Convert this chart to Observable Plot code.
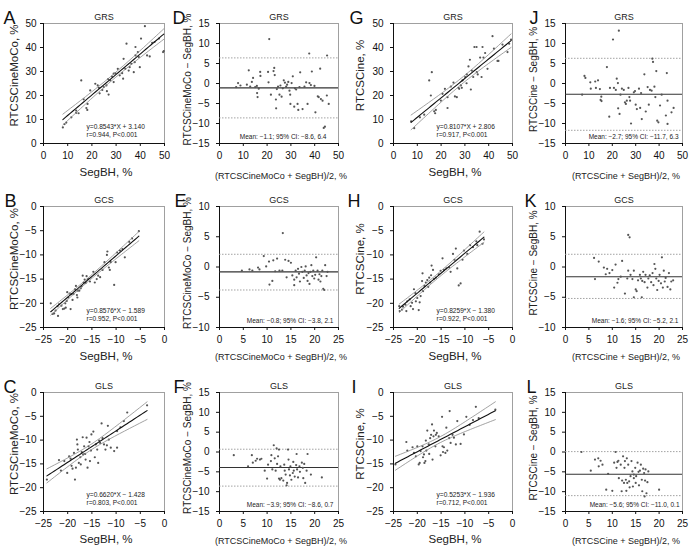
<!DOCTYPE html>
<html><head><meta charset="utf-8">
<script src="https://cdn.jsdelivr.net/npm/d3@7"></script>
<script src="https://cdn.jsdelivr.net/npm/@observablehq/plot@0.6"></script>
<style>
body{margin:0;background:#fff;}
#wrap{position:relative;width:691px;height:546px;overflow:hidden;background:#fff}
.panel{position:absolute}
</style></head><body><div id="wrap"></div><script>
// ---------- DATA ----------
// [SegBH, RTCSCineMoCo] GRS
const grsMoco = [[8.0,6.7],[8.7,8.1],[9.4,8.7],[11.5,10.9],[13.5,12.8],[14.5,12.6],[15.6,26.3],[16.6,18.4],[17.7,14.8],[18.1,14.0],[19.3,22.1],[21.4,24.9],[22.4,24.2],[23.2,20.9],[24.3,22.3],[26.0,24.2],[26.2,21.8],[26.9,20.4],[26.7,26.8],[27.6,26.3],[28.3,27.9],[29.0,29.1],[29.7,29.3],[30.7,31.1],[31.5,28.4],[32.5,29.3],[32.9,27.0],[33.1,35.3],[33.8,31.1],[34.3,41.6],[35.2,30.4],[35.6,31.8],[36.3,33.2],[37.3,29.7],[37.7,33.9],[38.0,36.7],[38.0,40.2],[39.0,38.1],[39.4,36.0],[39.8,31.8],[40.3,43.7],[41.9,48.9],[42.8,36.7],[43.9,36.3],[44.9,41.9],[45.9,42.3],[47.7,43.7],[49.4,38.1],[49.7,38.5],[24.9,23.5],[22.9,23.2],[29.0,25.6],[18.2,16.5],[13.5,13.7]];
// [mean, difference] GRS MoCo
const grsMocoBA = [[7.0,-0.9],[7.8,0.1],[8.8,-0.5],[11.5,-0.3],[12.3,3.3],[12.9,-0.8],[13.6,0.4],[14.1,1.4],[15.0,-0.9],[15.7,-0.6],[15.8,-2.4],[16.0,-3.4],[16.5,-1.3],[17.1,2.9],[17.2,1.9],[20.4,2.9],[20.6,0.3],[20.9,11.1],[21.6,-2.8],[22.7,3.1],[23.0,3.9],[23.2,2.1],[23.7,-4.0],[23.8,-6.2],[24.1,-1.4],[24.6,-0.8],[25.2,-2.8],[25.6,-0.5],[26.1,-3.3],[26.6,-1.2],[27.0,0.8],[27.5,0.2],[28.0,-0.8],[28.4,-0.3],[28.9,0.4],[29.4,-1.8],[29.7,-2.8],[29.8,-5.1],[30.3,0.1],[30.8,1.8],[31.4,-5.8],[31.7,-1.2],[32.2,-1.5],[32.8,-5.1],[33.1,-6.6],[33.6,-0.9],[33.9,2.8],[34.9,-6.4],[35.7,-0.8],[36.4,0.3],[37.0,-5.1],[37.7,7.5],[37.8,0.1],[38.4,-0.4],[38.8,3.0],[39.9,-0.6],[40.3,-7.2],[41.3,-3.2],[41.7,-3.4],[42.3,3.7],[42.6,-3.9],[43.3,-4.3],[43.8,-11.1],[44.3,-10.8],[45.1,-3.0],[45.2,7.0],[45.9,-5.1]];
// [SegBH, RTCSCine] GRS
const grsCine = [[7.4,9.2],[8.7,6.4],[11.1,10.9],[12.9,12.0],[15.0,26.3],[15.7,20.0],[16.1,29.7],[17.1,13.4],[17.5,12.6],[20.6,20.7],[21.6,22.8],[22.7,14.8],[24.1,23.7],[25.2,25.4],[25.8,19.6],[26.6,19.3],[27.3,23.2],[27.6,22.8],[28.3,24.2],[29.0,26.3],[30.1,27.7],[30.8,28.8],[31.5,32.1],[32.1,34.9],[32.5,22.5],[32.9,30.4],[33.5,27.7],[34.0,40.2],[34.9,40.2],[35.0,29.7],[35.4,28.8],[36.4,35.8],[37.0,27.7],[37.4,40.2],[37.8,35.8],[38.5,37.7],[39.5,31.1],[41.6,44.7],[42.2,39.5],[43.7,34.4],[44.1,34.4],[45.8,41.2],[47.9,38.1],[48.6,41.6],[49.4,43.3],[30.7,25.1],[28.7,23.2],[22.7,19.3],[19.9,17.9],[17.8,14.0]];
// [mean, difference] GRS Cine
const grsCineBA = [[7.1,-2.8],[8.1,1.9],[8.5,1.4],[10.6,0.3],[10.8,-1.3],[12.7,0.5],[13.0,-1.1],[13.9,0.8],[14.7,-1.4],[15.0,-4.1],[15.3,-3.3],[15.4,-4.4],[17.7,4.1],[18.7,-8.3],[19.0,-1.1],[20.3,11.0],[20.7,-1.1],[21.5,-1.6],[21.9,1.2],[22.4,0.1],[22.5,-6.2],[22.8,13.2],[23.1,-7.6],[23.5,-2.8],[24.1,-1.3],[24.9,-1.6],[25.4,-4.7],[25.8,-5.1],[26.2,-4.3],[26.9,-1.1],[27.3,-3.4],[27.6,-4.3],[28.0,-10.0],[29.2,-2.2],[29.7,-1.9],[30.0,-5.3],[30.5,-6.4],[31.4,-1.3],[31.9,-6.1],[32.3,-2.4],[32.6,-8.9],[33.7,2.3],[34.3,-7.0],[35.1,-0.9],[35.6,-5.3],[36.1,-1.6],[37.1,6.2],[37.4,5.4],[36.8,-1.8],[38.0,-0.8],[38.4,-3.4],[38.8,3.1],[39.2,-9.3],[39.7,-9.7],[40.4,-5.5],[41.1,-2.8],[42.9,-8.0],[43.3,2.6],[43.6,-4.3],[43.6,-10.1],[45.3,-7.2],[46.2,-6.1]];
// GCS
const gcsMoco = [[-23.5,-20.0],[-23.1,-22.2],[-22.8,-22.1],[-22.5,-21.5],[-22.1,-20.6],[-22.0,-22.6],[-21.8,-20.2],[-21.3,-20.5],[-21.0,-21.2],[-20.7,-21.1],[-20.5,-20.0],[-20.4,-20.9],[-20.2,-19.5],[-20.1,-17.7],[-19.9,-18.8],[-19.6,-18.0],[-19.4,-21.2],[-19.2,-18.1],[-19.0,-19.3],[-18.8,-18.1],[-18.5,-17.1],[-18.3,-16.4],[-18.1,-18.3],[-18.0,-18.8],[-17.9,-17.4],[-17.6,-17.4],[-17.3,-16.9],[-17.1,-16.5],[-16.9,-14.3],[-16.7,-15.7],[-16.5,-15.1],[-16.3,-15.8],[-16.1,-14.4],[-15.8,-15.0],[-15.4,-15.5],[-14.7,-13.5],[-14.4,-15.7],[-14.0,-15.0],[-13.7,-14.3],[-13.3,-14.6],[-12.8,-13.1],[-12.4,-11.5],[-11.9,-10.0],[-11.8,-9.3],[-11.5,-12.6],[-11.3,-13.1],[-11.1,-11.5],[-10.4,-16.2],[-10.1,-11.5],[-9.8,-9.5],[-9.2,-9.1],[-8.7,-8.8],[-8.2,-10.5],[-7.3,-7.3],[-6.7,-6.6],[-5.3,-5.1]];
const gcsMocoBA = [[4.7,-0.6],[6.3,-0.4],[6.9,-0.6],[8.1,-0.1],[8.4,-0.4],[9.3,1.8],[9.8,0.1],[10.4,0.9],[10.5,-2.9],[11.1,-2.3],[11.3,1.1],[11.7,-0.7],[12.1,1.4],[12.6,-0.6],[13.3,5.6],[13.2,-0.6],[13.8,1.2],[14.1,-1.7],[14.5,1.0],[15.0,0.7],[15.3,-1.4],[15.7,-3.0],[15.7,-2.1],[16.0,-0.6],[16.2,-1.7],[16.5,-0.3],[16.7,-1.1],[16.9,-2.4],[17.2,0.0],[17.4,-0.8],[17.7,-1.8],[17.9,-0.6],[18.1,0.1],[18.3,-1.4],[18.5,-2.3],[18.7,-1.0],[18.9,-2.8],[19.1,-0.8],[19.3,0.3],[19.5,-1.5],[19.7,-0.6],[19.9,-1.9],[20.1,-1.3],[20.3,1.6],[20.6,-0.6],[20.8,-2.1],[21.0,-1.2],[21.2,-2.4],[21.4,-1.5],[21.6,-0.6],[21.8,-3.6],[22.0,-3.8],[22.2,0.3],[22.5,-1.5],[22.7,-0.8]];
const gcsCine = [[-23.8,-20.6],[-23.7,-21.6],[-23.2,-21.3],[-23.0,-20.7],[-22.5,-20.3],[-22.3,-21.6],[-22.1,-19.6],[-21.6,-19.2],[-21.4,-20.6],[-21.1,-19.9],[-20.9,-21.2],[-20.7,-17.1],[-20.4,-17.9],[-20.3,-19.6],[-20.0,-18.9],[-19.7,-21.4],[-19.5,-19.8],[-19.3,-18.5],[-19.0,-15.4],[-18.9,-13.8],[-18.8,-17.5],[-18.5,-16.4],[-18.2,-15.7],[-17.9,-15.2],[-17.7,-16.6],[-17.5,-14.7],[-17.3,-15.7],[-17.1,-14.2],[-17.0,-12.2],[-16.7,-13.1],[-16.5,-15.0],[-16.1,-14.7],[-15.5,-14.0],[-15.1,-13.3],[-14.7,-10.7],[-14.4,-13.1],[-13.9,-12.8],[-13.3,-12.6],[-13.0,-13.5],[-12.5,-9.8],[-12.2,-11.0],[-11.9,-8.7],[-11.6,-12.8],[-11.3,-16.3],[-10.9,-15.9],[-10.5,-11.0],[-10.2,-9.1],[-9.5,-9.8],[-8.9,-8.0],[-8.3,-8.4],[-7.6,-7.2],[-6.9,-5.2],[-6.3,-7.7],[-6.0,-6.8],[-7.4,-8.0]];
const gcsCineBA = [[6.1,1.5],[6.3,-2.0],[7.1,0.9],[8.2,-0.1],[8.6,-1.2],[8.9,-0.3],[9.4,-1.0],[10.0,-0.5],[10.4,-3.4],[10.7,0.4],[11.1,-2.6],[11.3,-2.0],[11.8,-1.6],[12.1,1.0],[12.7,-4.4],[13.2,-1.9],[13.4,5.3],[13.7,4.9],[13.4,-0.6],[13.9,-1.3],[14.3,-2.0],[14.6,-0.6],[14.6,-5.0],[15.0,-3.7],[15.2,-4.0],[15.5,-2.2],[15.9,-1.3],[16.1,-1.9],[16.3,-5.0],[16.4,-2.3],[16.6,-0.8],[16.9,-2.5],[17.1,-1.3],[17.5,-3.4],[17.7,-1.9],[18.0,-1.4],[18.3,-2.5],[18.6,-1.0],[18.8,-3.0],[19.0,0.5],[19.2,-0.3],[19.4,-1.9],[19.6,-3.8],[19.9,-2.3],[20.1,-1.3],[20.4,-2.7],[20.6,1.6],[20.8,-3.4],[21.0,-0.6],[21.2,-2.4],[21.4,-1.8],[21.8,-3.3],[22.1,-1.0],[22.4,-3.7],[22.6,-2.4],[23.0,-2.2]];
// GLS
const glsMoco = [[-24.3,-18.3],[-21.8,-14.2],[-21.4,-16.4],[-20.7,-14.4],[-20.1,-16.9],[-19.7,-13.4],[-19.4,-13.9],[-19.2,-15.4],[-19.0,-16.0],[-18.7,-12.7],[-18.5,-18.3],[-18.3,-15.8],[-18.1,-9.9],[-18.0,-10.9],[-17.9,-12.0],[-17.7,-14.8],[-17.4,-13.6],[-17.3,-15.1],[-17.1,-12.5],[-16.9,-9.4],[-16.6,-11.3],[-16.4,-12.9],[-16.3,-14.1],[-16.1,-9.5],[-15.9,-15.8],[-15.7,-11.3],[-15.5,-10.4],[-15.2,-12.2],[-15.1,-8.8],[-14.7,-8.2],[-14.4,-13.6],[-14.2,-10.9],[-13.9,-12.0],[-13.7,-14.8],[-13.5,-10.1],[-13.3,-10.6],[-13.0,-6.5],[-12.8,-9.6],[-12.5,-10.9],[-12.2,-12.0],[-11.9,-11.1],[-11.7,-7.0],[-11.5,-9.9],[-11.1,-11.6],[-10.4,-12.3],[-9.8,-8.1],[-9.1,-7.3],[-8.4,-6.0],[-7.7,-4.2],[-9.8,-11.6],[-15.4,-14.4],[-16.8,-13.0],[-3.6,-2.7]];
const glsMocoBA = [[3.0,-0.8],[6.0,-3.6],[6.8,-0.8],[7.0,-2.7],[7.6,-2.2],[7.9,-1.7],[8.5,-1.9],[8.8,-1.7],[9.5,-4.7],[10.0,-6.7],[10.2,-3.2],[10.8,-2.3],[10.9,-0.8],[11.1,-4.4],[11.4,1.7],[11.6,-1.6],[11.8,-4.7],[12.0,0.9],[12.1,-3.0],[12.3,-1.1],[12.5,-6.7],[12.5,0.6],[12.7,-7.0],[12.8,-3.6],[13.0,-6.6],[13.4,-7.2],[13.6,-3.2],[13.7,-4.7],[13.9,-5.7],[14.1,-8.4],[14.2,-7.8],[14.4,0.6],[14.5,-1.9],[14.6,-4.4],[14.8,-5.9],[14.9,-3.6],[15.1,-7.0],[15.4,-5.3],[15.5,-2.5],[15.6,-4.7],[15.8,-6.2],[16.1,-3.3],[16.2,-0.5],[16.3,-4.4],[16.5,-6.4],[16.8,-3.6],[16.9,-5.0],[17.3,-2.7],[17.5,-4.0],[17.6,-6.6],[17.8,-3.0],[18.0,-7.8],[18.3,-4.7],[18.5,-0.5],[19.2,-5.7],[21.5,-6.4]];
const glsCine = [[-24.6,-15.1],[-22.3,-10.4],[-22.1,-12.2],[-21.0,-11.5],[-20.7,-12.7],[-20.3,-13.4],[-20.0,-11.3],[-19.7,-15.1],[-19.5,-14.8],[-19.3,-12.3],[-18.9,-11.3],[-18.8,-13.6],[-18.6,-13.0],[-18.5,-14.8],[-18.3,-14.4],[-18.2,-10.1],[-18.1,-12.2],[-17.9,-8.0],[-17.6,-10.9],[-17.5,-12.9],[-17.3,-9.6],[-17.1,-8.9],[-16.9,-6.7],[-16.8,-14.1],[-16.6,-9.2],[-16.5,-8.0],[-16.2,-11.3],[-16.1,-8.9],[-15.9,-8.5],[-15.5,-9.2],[-15.1,-13.2],[-14.7,-11.3],[-14.6,-12.5],[-14.4,-11.5],[-14.1,-12.7],[-13.9,-7.4],[-13.7,-12.2],[-13.3,-9.6],[-13.2,-3.9],[-13.0,-10.6],[-12.6,-8.9],[-12.3,-9.5],[-11.9,-10.9],[-11.6,-6.0],[-10.9,-10.8],[-10.2,-8.8],[-9.7,-5.1],[-9.0,-6.8],[-8.3,-5.8],[-7.7,-3.0],[-7.1,-5.4],[-14.8,-5.1],[-3.6,-3.6]];
const glsCineBA = [[3.4,0.0],[5.4,-4.7],[6.3,-1.9],[7.0,-1.6],[7.1,-3.6],[7.5,-2.2],[7.9,-3.2],[8.7,-9.5],[9.1,-5.5],[10.0,-9.8],[10.4,-2.7],[10.7,0.0],[10.9,-4.0],[11.1,-2.5],[11.3,-2.2],[11.4,-6.6],[11.8,-3.2],[12.0,-9.9],[12.1,-7.2],[12.3,-1.1],[12.5,-7.8],[12.6,-4.0],[12.7,-2.3],[12.9,-7.0],[13.0,-9.8],[13.1,-1.6],[13.2,-7.8],[13.4,-3.2],[13.6,-7.4],[13.7,-8.9],[13.9,-6.1],[14.1,-2.3],[14.3,-4.9],[14.4,-8.7],[14.6,-6.6],[14.9,-4.0],[15.0,-7.8],[15.1,-6.1],[15.4,-2.7],[15.6,-5.0],[15.7,-8.4],[15.9,-4.7],[16.1,-3.2],[16.3,-7.0],[16.4,-9.9],[16.6,-4.2],[16.8,-5.3],[16.9,-11.2],[17.0,-7.2],[17.1,-4.4],[17.3,-10.4],[17.5,-7.6],[17.7,-4.9],[20.0,-9.5],[14.6,-5.7]];

// regression coefficients [slope, intercept] printed on the panels
const fitGrsMoco = [0.8543, 3.140], fitGrsCine = [0.8107, 2.806];
const fitGcsMoco = [0.8576, -1.589], fitGcsCine = [0.8259, -1.380];
const fitGlsMoco = [0.6620, -1.428], fitGlsCine = [0.5253, -1.936];
// Bland-Altman [mean, lower, upper]
const baGrsMoco = [-1.1, -8.6, 6.4], baGrsCine = [-2.7, -11.7, 6.3];
const baGcsMoco = [-0.8, -3.8, 2.1], baGcsCine = [-1.6, -5.2, 2.1];
const baGlsMoco = [-3.9, -8.6, 0.7], baGlsCine = [-5.6, -11.0, 0.1];
// ticks
const ticksPos50 = [0, 10, 20, 30, 40, 50];
const ticksNeg25 = [-25, -20, -15, -10, -5, 0];
const ticks0to25 = [0, 5, 10, 15, 20, 25];
const ticksBA15 = [-15, -10, -5, 0, 5, 10, 15];
const ticksBA10 = [-10, -5, 0, 5, 10];
// labels
const letters = ["A","B","C","D","E","F","G","H","I","J","K","L"];
const titles = ["GRS", "GCS", "GLS"];

// ---------- LAYOUT ----------
const COL_LEFT = [0, 172, 345, 518], COL_W = [172, 173, 173, 173];
const ML = [43, 47, 48, 47], FW = [121, 119, 119, 117], YPAD = [4, 7, 7, 7];
const ROW_TOP = [0, 182, 364], MT = [23, 24, 28], FB = [143, 145, 147];
const LETTER_X = [[3, 4, 3], [0, 2, 1], [4, 2, 6], [11, 6, 8]];
const FONT = "'Liberation Sans', Arial, Helvetica, sans-serif";
const fmt = d => String(d).replace("-", "\u2212");

const panels = [
  {col:0,row:0,kind:"sc",pts:grsMoco,fit:fitGrsMoco,xt:ticksPos50,yt:ticksPos50,xl:"SegBH, %",yl:"RTCSCineMoCo, %",st:["y=0.8543*X + 3.140","r=0.944, P<0.001"]},
  {col:0,row:1,kind:"sc",pts:gcsMoco,fit:fitGcsMoco,xt:ticksNeg25,yt:ticksNeg25,xl:"SegBH, %",yl:"RTCSCineMoCo, %",st:["y=0.8576*X \u2212 1.589","r=0.952, P<0.001"]},
  {col:0,row:2,kind:"sc",pts:glsMoco,fit:fitGlsMoco,xt:ticksNeg25,yt:ticksNeg25,xl:"SegBH, %",yl:"RTCSCineMoCo, %",st:["y=0.6620*X \u2212 1.428","r=0.803, P<0.001"]},
  {col:1,row:0,kind:"ba",pts:grsMocoBA,ba:baGrsMoco,xt:ticksPos50,yt:ticksBA15,xl:"(RTCSCineMoCo + SegBH)/2, %",yl:"RTCSCineMoCo \u2212 SegBH, %",st:"Mean: \u22121.1; 95% CI: \u22128.6, 6.4",sdx:-12},
  {col:1,row:1,kind:"ba",pts:gcsMocoBA,ba:baGcsMoco,xt:ticks0to25,yt:ticksBA10,xl:"(RTCSCineMoCo + SegBH)/2, %",yl:"RTCSCineMoCo \u2212 SegBH, %",st:"Mean: \u22120.8; 95% CI: \u22123.8, 2.1",sdx:-5},
  {col:1,row:2,kind:"ba",pts:glsMocoBA,ba:baGlsMoco,xt:ticks0to25,yt:ticksBA15,xl:"(RTCSCineMoCo + SegBH)/2, %",yl:"RTCSCineMoCo \u2212 SegBH, %",st:"Mean: \u22123.9; 95% CI: \u22128.6, 0.7",sdx:-5},
  {col:2,row:0,kind:"sc",pts:grsCine,fit:fitGrsCine,xt:ticksPos50,yt:ticksPos50,xl:"SegBH, %",yl:"RTCSCine, %",st:["y=0.8107*X + 2.806","r=0.917, P<0.001"]},
  {col:2,row:1,kind:"sc",pts:gcsCine,fit:fitGcsCine,xt:ticksNeg25,yt:ticksNeg25,xl:"SegBH, %",yl:"RTCSCine, %",st:["y=0.8259*X \u2212 1.380","r=0.922, P<0.001"]},
  {col:2,row:2,kind:"sc",pts:glsCine,fit:fitGlsCine,xt:ticksNeg25,yt:ticksNeg25,xl:"SegBH, %",yl:"RTCSCine, %",st:["y=0.5253*X \u2212 1.936","r=0.712, P<0.001"]},
  {col:3,row:0,kind:"ba",pts:grsCineBA,ba:baGrsCine,xt:ticksPos50,yt:ticksBA15,xl:"(RTCSCine + SegBH)/2, %",yl:"RTCSCine \u2212 SegBH, %",st:"Mean: \u22122.7; 95% CI: \u221211.7, 6.3",sdx:-4},
  {col:3,row:1,kind:"ba",pts:gcsCineBA,ba:baGcsCine,xt:ticks0to25,yt:ticksBA10,xl:"(RTCSCine + SegBH)/2, %",yl:"RTCSCine \u2212 SegBH, %",st:"Mean: \u22121.6; 95% CI: \u22125.2, 2.1",sdx:-4},
  {col:3,row:2,kind:"ba",pts:glsCineBA,ba:baGlsCine,xt:ticks0to25,yt:ticksBA15,xl:"(RTCSCine + SegBH)/2, %",yl:"RTCSCine \u2212 SegBH, %",st:"Mean: \u22125.6; 95% CI: \u221211.0, 0.1",sdx:-3}
];

function fitCurves(pts, fit) {
  const [b, a] = fit;
  const xs = pts.map(d => d[0]);
  const n = pts.length, xbar = d3.mean(xs);
  const sxx = d3.sum(xs, x => (x - xbar) ** 2);
  const s = Math.sqrt(d3.sum(pts, ([x, y]) => (y - (b * x + a)) ** 2) / (n - 2));
  const [x0, x1] = d3.extent(xs);
  return d3.range(41).map(i => {
    const x = x0 + (x1 - x0) * i / 40, yh = b * x + a;
    const h = 2.0 * s * Math.sqrt(1 / n + (x - xbar) ** 2 / sxx);
    return {x, yh, lo: yh - h, hi: yh + h};
  });
}

const wrap = document.getElementById("wrap");
panels.forEach((p, k) => {
  const {col, row} = p;
  const width = COL_W[col], height = 182;
  const ml = ML[col], mt = MT[row], mr = width - ml - FW[col], mb = height - FB[row];
  const letter = letters[col * 3 + row];
  const sc = p.kind === "sc";
  const marks = [
    Plot.frame({stroke: "#a0a0a0", strokeWidth: 1}),
    Plot.ruleX([p.xt[0]], {stroke: "#111", strokeWidth: 1}),
    Plot.ruleY([p.yt[0]], {stroke: "#111", strokeWidth: 1}),
    Plot.axisX({ticks: p.xt, tickSize: 3, tickPadding: 5, tickFormat: fmt, label: null, fontSize: 10, stroke: "#111"}),
    Plot.axisY({ticks: p.yt, tickSize: 3, tickPadding: YPAD[col], tickFormat: fmt, label: null, fontSize: 10, stroke: "#111"}),
    Plot.text([letter], {text: d => d, frameAnchor: "top-left", textAnchor: "start", lineAnchor: "bottom", dx: LETTER_X[col][row] - ml, dy: 0, fontSize: 18, fill: "#111"}),
    Plot.text([titles[row]], {text: d => d, frameAnchor: "top", lineAnchor: "bottom", dy: -4, fontSize: 9, fill: "#222"}),
    Plot.text([p.yl], {text: d => d, frameAnchor: "left", rotate: -90, lineAnchor: "middle", textAnchor: "middle", dx: (col === 0 ? 13.5 : 15) - ml, dy: sc ? -8 : -4, fontSize: sc ? 11.5 : 10, fill: "#222"}),
    Plot.text([p.xl], {text: d => d, frameAnchor: "bottom", lineAnchor: "middle", dx: 2, dy: sc ? (row === 2 ? 28 : 29) : (row === 0 ? 33 : 30), fontSize: sc ? 11.5 : 9, fill: "#222"})
  ];
  if (sc) {
    const c = fitCurves(p.pts, p.fit);
    marks.push(
      Plot.dot(p.pts, {x: d => d[0], y: d => d[1], r: 1.1, fill: "#555", stroke: "none"}),
      Plot.line(c, {x: "x", y: "lo", stroke: "#8a8a8a", strokeWidth: 0.8}),
      Plot.line(c, {x: "x", y: "hi", stroke: "#8a8a8a", strokeWidth: 0.8}),
      Plot.line(c, {x: "x", y: "yh", stroke: "#111", strokeWidth: 1.1}),
      Plot.text([p.st[0]], {text: d => d, frameAnchor: "bottom-left", textAnchor: "start", lineAnchor: "middle", dx: 43, dy: -16.5, fontSize: 6.6, fill: "#222"}),
      Plot.text([p.st[1]], {text: d => d, frameAnchor: "bottom-left", textAnchor: "start", lineAnchor: "middle", dx: 43, dy: -9, fontSize: 6.6, fill: "#222"})
    );
  } else {
    marks.push(
      Plot.ruleY([p.ba[1], p.ba[2]], {stroke: "#999", strokeWidth: 0.9, strokeDasharray: "1.5,1.5"}),
      Plot.ruleY([p.ba[0]], {stroke: "#333", strokeWidth: 1.1}),
      Plot.dot(p.pts, {x: d => d[0], y: d => d[1], r: 1.1, fill: "#555", stroke: "none"}),
      Plot.text([p.st], {text: d => d, frameAnchor: "bottom-right", textAnchor: "end", lineAnchor: "middle", dx: p.sdx, dy: -7, fontSize: 6.5, fill: "#222"})
    );
  }
  const chart = Plot.plot({
    width, height, marginLeft: ml, marginRight: mr, marginTop: mt, marginBottom: mb,
    style: {fontFamily: FONT, fontSize: "10px", color: "#111", background: "transparent", overflow: "visible"},
    x: {domain: [p.xt[0], p.xt[p.xt.length - 1]]},
    y: {domain: [p.yt[0], p.yt[p.yt.length - 1]]},
    marks
  });
  const div = document.createElement("div");
  div.className = "panel";
  div.style.left = COL_LEFT[col] + "px";
  div.style.top = ROW_TOP[row] + "px";
  div.appendChild(chart);
  wrap.appendChild(div);
});
</script></body></html>
